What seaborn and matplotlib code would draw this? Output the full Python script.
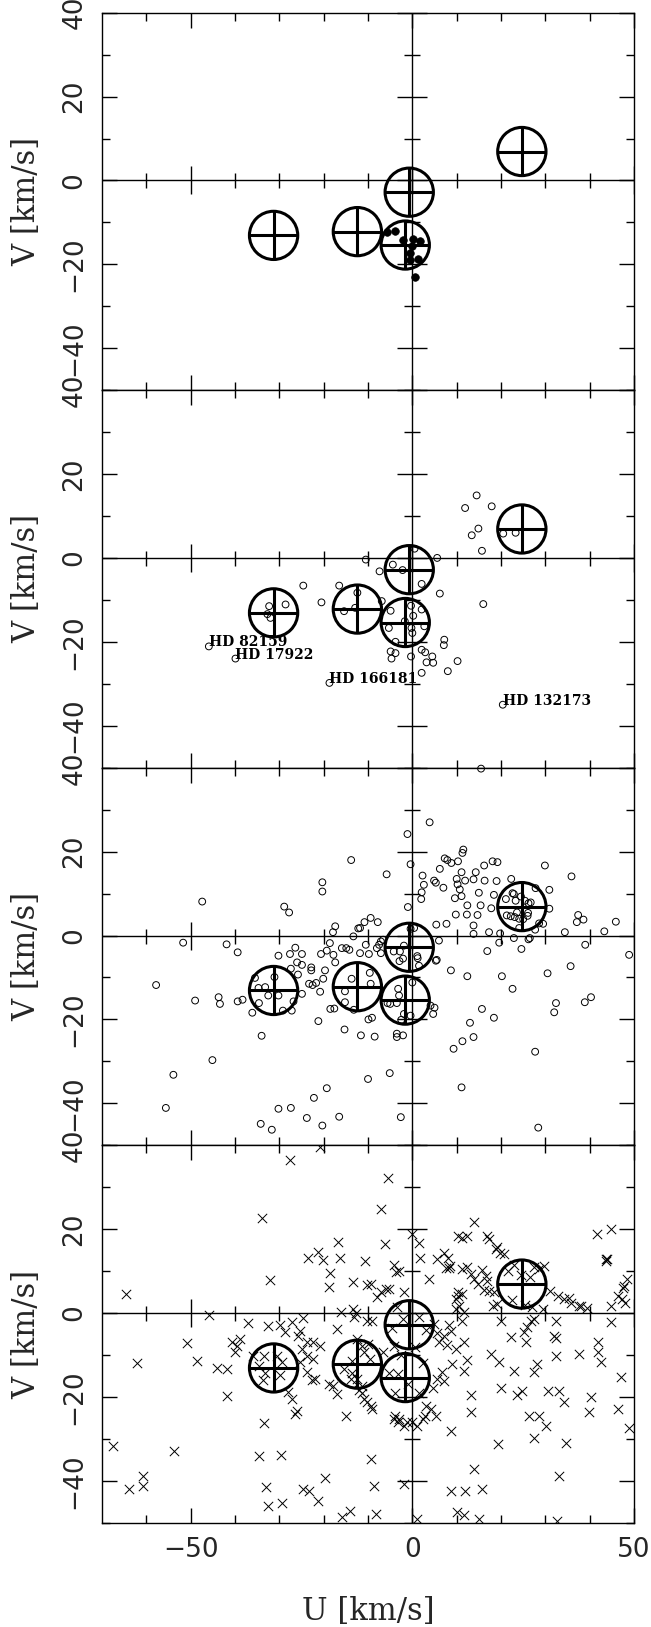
import matplotlib
matplotlib.use("Agg")
import matplotlib.pyplot as plt
import seaborn as sns
import pandas as pd
from matplotlib.patches import Ellipse

# ---------------------------------------------------------------- data
# moving-group centres (U, V) and the half-widths of their outlines
group_u = [24.7, -0.7, -12.4, -31.3, -1.6]
group_v = [6.9, -2.8, -12.2, -13.1, -15.4]
group_du = [5.45, 5.45, 5.45, 5.45, 5.45]
group_dv = [5.75, 5.75, 5.75, 5.75, 5.75]

# panel 1: filled dots
p1_u = [-5.8, -3.9, -2.1, 0.2, 1.8, 0.0, -0.6, -0.5, 1.2, 0.6]
p1_v = [-12.2, -12.1, -14.1, -14.0, -14.5, -15.6, -17.3, -19.0, -18.8, -23.1]

# panel 2: open circles
p2_u = [14.5, 11.9, 17.9, 14.9, 13.4, 15.7, 20.5, 23.3, 16.0,
        -10.5, -7.4, -4.4, -2.2, 0.5, 5.6, 2.1, 6.2, -24.6, -16.5, -20.5,
        -12.4, -15.4, -12.9, -6.9, -4.9, -32.3, -28.6, -32.7, -32.0,
        -0.3, 2.1, 0.2, -1.7, 2.7, -5.3, -0.2, 0.0, -3.8, -4.9, -3.8,
        -4.7, -0.3, 2.1, 2.9, 4.5, 3.2, 4.7, 7.2, 7.1, 10.2, 8.0, 2.1]
p2_v = [14.9, 11.9, 12.3, 7.0, 5.4, 1.7, 5.8, 6.0, -11.0,
        -0.4, -3.2, -1.6, -2.9, 2.2, 0.0, -6.2, -8.5, -6.6, -6.6, -10.6,
        -8.3, -12.7, -11.9, -10.3, -12.6, -11.5, -11.1, -13.4, -14.3,
        -11.4, -12.3, -13.8, -15.1, -16.3, -16.7, -16.7, -17.9, -20.0, -22.3, -22.7,
        -24.0, -23.5, -21.9, -22.5, -23.5, -24.9, -25.0, -19.5, -20.8, -24.6, -27.0, -27.4]

# panel 2: named stars
hd_names = ["HD 82159", "HD 17922", "HD 166181", "HD 132173"]
hd_u = [-45.9, -39.9, -18.7, 20.4]
hd_v = [-21.1, -24.0, -29.8, -35.0]

# panel 3: open circles
p3_u = [-13.8, -20.3, -20.3, -47.4, -28.9, -27.8, -17.4, -17.9, -12.2, -10.8,
        -13.3, -51.7, -41.9, -39.4, -57.8, -49.0, -43.7, -43.4, -39.4, -38.3,
        -36.1, -34.6, -35.5, -34.7, -33.2, -32.5, -31.1, -30.2, -29.2, -27.2,
        -26.8, -24.9, -30.2, -27.6, -26.4, -24.9, -26.0, -24.9, -25.8, -27.4,
        -22.8, -22.8, -23.3, -22.5, -20.8, -21.7, -19.7, -20.1, -20.6, -19.3,
        -18.6, -17.8, -17.4, -15.9, -14.9, -14.2, -21.2, -18.5, -17.6, -15.3,
        -11.6, -34.0, -45.1, -53.9, -55.6, -34.2, -31.7, -30.2, -27.4, -23.8,
        -22.2, -20.3, -19.3, -16.5, -10.0, -13.7, -9.6, -9.4, -15.2, -15.2,
        -13.2, -9.1, -9.9, -8.5, -7.8, -9.4, -11.8, -10.5, -8.0, -7.1,
        -11.8, -9.8, -5.8,
        -1.1, 3.9, -0.4, -1.0, 2.3, 2.6, 2.1, 2.0, 4.9, 5.3,
        7.0, 6.2, 7.3, 7.9, 8.8, 10.3, 11.3, 11.5, 11.1, 10.0,
        10.2, 10.7, 11.1, 9.6, 9.8, 12.4, 12.3, 11.9, 13.8, 14.3,
        16.2, 16.3, 15.0, 14.7, 15.4, 18.1, 19.2, 19.0, 18.4, 17.8,
        13.8, 13.8, 7.7, 5.4, 6.0, 17.3, 19.6, 16.9, 22.3, 21.1,
        22.9, 21.3, 22.2, 23.1, 24.1, 24.6, 22.9, 24.1, 23.3, 25.4,
        26.7, 26.1, 27.8, 30.9, 29.9, 30.9, 29.5, 26.5, 35.9, 37.4,
        37.1, 38.6, 34.4, 43.3, 45.9, 39.0, 48.9, 35.7, 30.5, 20.2,
        12.4, 8.7, 22.6, 32.4, 32.0, 38.9, 40.3, 15.7, 18.4, 13.0,
        13.8, 11.3, 9.3, 27.7, 11.1, 28.4, -2.6, -5.1, 4.7, 4.1,
        5.3, 1.1, -2.8, -1.9, -7.5, -0.4, 0.4, 1.5, -3.2, -3.0,
        -3.5, -0.4, -1.9, -3.5, -3.5, -2.1, -5.6, -5.0,
        5.5, -4.2, -2.1, -2.9, 1.2, -6.6, -7.1, 0.0, 5.0, -2.5,
        22.6, 24.5, 26.2, 23.6, 25.0, 26.0, 27.7, 28.6, 26.2, 19.8,
        15.5]
p3_v = [18.0, 12.7, 10.5, 8.1, 6.9, 5.5, 2.2, 0.8, 1.7, 3.2,
        -0.2, -1.7, -2.1, -4.0, -11.8, -15.5, -14.7, -16.3, -15.7, -15.3,
        -18.4, -16.1, -10.1, -12.5, -12.3, -14.3, -9.9, -14.3, -17.9, -17.9,
        -15.7, -13.9, -4.8, -4.4, -2.9, -4.4, -6.4, -7.0, -9.3, -7.9,
        -7.6, -8.3, -11.5, -11.8, -13.4, -11.3, -8.3, -10.3, -4.4, -3.6,
        -1.8, -4.6, -6.4, -3.0, -3.0, -3.4, -20.4, -17.5, -17.4, -22.4,
        -23.8, -23.9, -29.7, -33.2, -41.1, -44.9, -46.3, -41.3, -41.1, -43.5,
        -38.7, -45.3, -36.4, -43.2, -34.2, -10.3, -8.9, -11.5, -13.3, -15.9,
        -17.7, -19.6, -20.0, -24.1, 3.2, 4.2, 1.8, -2.2, -3.0, -1.4,
        -4.2, -4.4, 14.6,
        24.2, 27.0, 17.0, 6.8, 14.3, 12.1, 10.3, 8.7, 13.1, 12.6,
        11.4, 15.9, 18.4, 18.0, 17.3, 17.7, 19.7, 20.5, 15.1, 13.5,
        12.2, 11.0, 9.4, 8.9, 5.0, 7.2, 5.0, 13.1, 13.4, 15.1,
        16.7, 13.1, 10.2, 4.9, 7.2, 17.7, 17.5, 13.0, 9.7, 6.5,
        2.4, 0.4, 2.8, 2.6, -1.2, 0.8, -1.7, -3.7, 13.5, 8.7,
        9.9, 4.8, 4.6, 4.4, 4.0, -3.2, -0.6, 1.8, 8.3, 8.3,
        7.9, 5.4, 11.3, 10.9, 16.7, 6.4, 2.8, -0.6, 14.1, 4.9,
        3.2, 3.8, 0.8, 1.0, 3.3, -2.2, -4.6, -7.3, -9.0, -9.7,
        -9.7, -8.3, -12.7, -16.1, -18.3, -15.9, -14.7, -17.5, -19.6, -20.8,
        -24.2, -25.2, -27.0, -27.7, -36.2, -45.8, -43.3, -32.8, -18.7, -16.7,
        -6.0, -4.9, -3.8, -2.4, -2.2, 1.6, 1.8, -7.2, -12.7, -14.3,
        -16.1, -19.1, -18.7, -23.4, -24.2, -23.8, -16.1, -16.3,
        -5.8, -3.8, -5.5, -6.1, -5.4, -1.0, -4.2, -11.2, -17.2, -20.1,
        10.1, 9.3, 7.7, 5.5, 3.9, 4.7, 1.4, 2.9, -0.9, 0.5,
        39.8]

# panel 4: crosses
p4_u = [-27.6, -20.8, -33.8, -32.2, -64.7, -23.6, -21.2, -20.2, -16.8, -16.3,
        -18.5, -18.8, -13.3, -10.6, -10.3, -45.8, -37.0, -32.5, -29.8, -28.7,
        -27.2, -24.6, -25.3, -25.7, -23.8, -22.5, -20.8, -22.3, -23.8, -24.9,
        -16.9, -16.1, -13.4, -13.1, -50.8, -62.2, -48.6, -44.0, -41.7, -41.9,
        -40.7, -39.6, -40.0, -38.8, -36.0, -33.4, -34.5, -33.2, -33.7, -30.6,
        -29.5, -29.8, -28.0, -27.2, -26.1, -26.4, -25.3, -23.8, -22.7, -22.0,
        -18.7, -17.8, -17.0, -14.9, -33.4, -67.5, -53.8, -34.7, -29.7, -19.8,
        -60.7, -60.7, -63.9, -33.0, -24.6, -23.4, -21.2, -32.6, -29.5, -15.9,
        -14.0,
        -7.1, -5.5, -6.1, -4.2, -3.6, -8.0, -7.1, -1.9, 0.0, 1.4,
        1.7, 3.8, 5.6, 7.1, 8.0, 8.5, 7.5, 10.3, 10.6, 10.3,
        11.2, 13.9, 16.9, 17.4, 18.8, 19.7, 20.6, 31.0, 32.9, 34.3,
        35.7, 38.1, 39.5, 41.6, 44.7, 43.6, 44.0, 46.5, 48.0, 48.5,
        47.5, -3.0, -9.4, -6.0, -5.3, 8.3, 12.4, 11.3, 12.4, 13.2,
        13.9, 14.7, 10.2, 11.3, 9.8, 19.2, 15.8, 16.6, 16.9, 16.2,
        17.3, 18.4, 18.1, 19.2, 29.7, 35.4, 37.6, 44.8, 47.4, 47.8,
        43.6, 44.8, 11.3, 11.7, 9.8,
        19.9, 22.2, 25.2, 25.8, 26.7, 27.5, 25.6, 32.4, 32.0, 32.4,
        32.4, 37.6, 41.8, 41.8, 42.5, 47.0, 17.7, 19.6, 22.9, 27.5,
        28.2, 19.9, 23.7, 24.8, 30.5, 33.1, 34.2, 40.3, 39.9, 46.4,
        48.9, 26.3, 28.6, 30.1, 27.5, 34.6, 19.4, 13.3, 13.3, 8.8,
        13.8, 33.1, 8.8, 11.8, 15.6, 10.0, 11.7, 15.0, 32.7, -8.7,
        -9.4, -8.3, -1.9, 1.1,
        4.9, 5.6, 7.1, 6.0, 8.3, 8.7, 7.9, 9.8, 11.7, 12.4,
        11.7, 9.0, 6.8, 5.6, 7.1, 3.0, 4.1, 5.3, 2.3, 1.1,
        -1.1, -3.0, -3.8, -9.4, -9.0,
        -12.7, -10.3, -9.1, -12.4, -11.3, -10.8, -9.9, -9.5, -13.5, -15.4,
        -13.5, -13.9, -12.5, -11.3, -10.8, -10.3, -11.3, -12.1, -6.6, -4.2,
        -3.3, -5.2, -4.2, -3.3, -1.9, 0.0, 2.8, 4.7,
        21.5, 23.0, 24.5, 26.5, 27.5, 28.5, 22.5, 25.5, 27.0, 29.5,
        -2.0, 1.5, -4.5, 3.0, -3.5, -2.5, 0.5, 2.5, -1.0, 1.5, -4.0]
p4_v = [36.6, 39.7, 22.6, 7.9, 4.5, 13.0, 14.5, 12.7, 17.0, 13.0,
        9.5, 6.3, 7.5, 12.3, 6.7, -0.5, -2.5, -3.0, -2.9, -4.6,
        -2.2, -1.2, -4.2, -5.6, -7.0, -6.8, -7.8, -11.0, -10.2, -8.6,
        -3.8, 0.2, 1.0, -1.0, -7.2, -11.9, -11.4, -13.2, -13.4, -19.9,
        -7.0, -7.9, -9.4, -6.2, -10.2, -10.2, -12.7, -14.3, -15.9, -10.2,
        -11.8, -14.9, -18.9, -20.5, -23.3, -24.1, -11.8, -14.1, -15.9, -15.7,
        -16.9, -17.3, -19.3, -24.5, -26.3, -31.6, -32.8, -34.2, -33.9, -39.3,
        -38.8, -41.2, -42.0, -41.6, -42.0, -42.4, -44.8, -46.1, -45.2, -48.7,
        -47.1,
        24.7, 32.3, 16.4, 11.4, 9.7, 3.8, 4.9, 5.0, 18.8, 16.8,
        13.2, 8.1, 12.8, 14.4, 13.2, 11.2, 10.8, 4.1, 1.7, 18.4,
        18.0, 21.6, 18.4, 17.6, 15.2, 14.4, 14.0, 5.3, 4.1, 3.3,
        2.5, 1.7, 1.3, 18.8, 20.0, 12.3, 12.8, 4.0, 2.5, 8.0,
        6.0, 10.1, 6.9, 5.7, 5.7, 10.7, 18.3, 10.5, 10.9, 9.3,
        8.1, 6.9, 4.9, 4.5, 3.3, 15.7, 10.3, 8.9, 7.7, 5.6,
        5.2, 4.9, 1.7, 2.1, 11.1, 3.6, 1.6, 1.7, 3.3, 6.5,
        12.9, -2.2, -1.8, 0.2, 1.0,
        -1.8, -5.8, -4.6, -3.4, -1.8, -1.4, -7.0, -2.0, -5.6, -6.0,
        -10.3, -9.7, -6.9, -9.4, -11.6, -15.3, -9.8, -11.8, -13.8, -14.1,
        -12.2, -18.0, -19.5, -18.5, -18.5, -18.5, -21.3, -20.1, -23.5, -22.8,
        -27.3, -24.5, -24.5, -26.9, -29.7, -31.0, -31.2, -19.6, -23.5, -28.1,
        -37.2, -38.8, -42.4, -42.5, -42.0, -47.5, -48.2, -49.1, -49.5, -41.2,
        -34.8, -47.9, -40.8, -49.1,
        -2.6, -4.8, -5.6, -6.8, -2.8, -4.4, -7.6, -8.6, -7.0, -11.1,
        -13.8, -12.2, -14.1, -15.7, -16.1, -22.1, -22.9, -24.5, -25.3, -26.9,
        -26.1, -25.3, -24.5, -22.1, -22.9,
        0.1, -1.9, -2.0, -6.2, -7.8, -9.4, -7.4, -11.0, -11.4, -13.4,
        -14.2, -15.8, -15.8, -19.0, -20.6, -21.3, -17.4, -18.3, -9.4, -7.8,
        -14.6, -14.2, -25.3, -26.1, -26.9, -26.1, -24.5, -17.8,
        10.0, 11.5, 9.0, 8.5, 11.0, 10.5, 3.0, 2.0, 1.5, 1.0,
        -1.5, -1.0, -3.5, -4.0, 1.5, -10.0, -8.0, -12.0, -17.0, -19.0, -19.0]

# axis ticks
u_major = [-50, 0, 50]
u_minor = [-60, -40, -30, -20, -10, 10, 20, 30, 40]
v_major = [-40, -20, 0, 20, 40]
v_minor = [-50, -30, -10, 10, 30]
u_lim = (-70, 50)
v_lim = (-50, 40)

# ---------------------------------------------------------------- style
sns.set_theme(style="ticks")
plt.rcParams["font.family"] = ["DejaVu Serif"]
plt.rcParams["axes.linewidth"] = 1.0
plt.rcParams["axes.edgecolor"] = "black"

INK = "black"
TICK_FONT = dict(family="DejaVu Sans", size=19)
LABEL_FONT = dict(family="DejaVu Serif", size=22)

fig = plt.figure(figsize=(6.51, 16.27), dpi=100)
left, width, height = 0.1567, 0.8172, 0.2320
bottoms = [0.7602, 0.5282, 0.2961, 0.0641]
axes = [fig.add_axes([left, b, width, height]) for b in bottoms]


def signed(t):
    return f"{t:d}".replace("-", "\u2212")


def frame(ax, show_u_labels):
    ax.set_xlim(*u_lim)
    ax.set_ylim(*v_lim)
    ax.set_xticks(u_major)
    ax.set_xticks(u_minor, minor=True)
    ax.set_yticks(v_major)
    ax.set_yticks(v_minor, minor=True)
    ax.tick_params(which="both", direction="in", top=True, right=True,
                   width=1.0, color=INK)
    ax.tick_params(which="major", length=10.8)
    ax.tick_params(which="minor", length=5.8)
    ax.tick_params(axis="y", which="major", pad=10.5)
    ax.tick_params(axis="x", which="major", pad=10.0,
                   labelbottom=show_u_labels)
    ax.set_yticklabels([signed(t) for t in v_major],
                       rotation=90, va="center", **TICK_FONT)
    if show_u_labels:
        ax.set_xticklabels([signed(t) for t in u_major], **TICK_FONT)
    for s in ax.spines.values():
        s.set_linewidth(1.0)
        s.set_color(INK)
    # axes through the origin, with ticks on both sides
    ax.axhline(0, color=INK, lw=1.0, zorder=1)
    ax.axvline(0, color=INK, lw=1.0, zorder=1)
    ax.plot(u_major, [0] * len(u_major), ls="none", marker="|", ms=19.5,
            mew=1.0, color=INK, zorder=1)
    ax.plot(u_minor, [0] * len(u_minor), ls="none", marker="|", ms=10.8,
            mew=1.0, color=INK, zorder=1)
    ax.plot([0] * len(v_major), v_major, ls="none", marker="_", ms=20.9,
            mew=1.0, color=INK, zorder=1, clip_on=False)
    ax.plot([0] * len(v_minor), v_minor, ls="none", marker="_", ms=11.5,
            mew=1.0, color=INK, zorder=1)


def groups(ax):
    for u, v, du, dv in zip(group_u, group_v, group_du, group_dv):
        ax.add_patch(Ellipse((u, v), 2 * du, 2 * dv, fill=False,
                             ec=INK, lw=2.2, zorder=4))
    ax.errorbar(group_u, group_v, xerr=group_du, yerr=group_dv, fmt="none",
                ecolor=INK, elinewidth=2.2, capsize=0, zorder=4)


for i, ax in enumerate(axes):
    frame(ax, i == len(axes) - 1)

# panel 1: filled dots
ax = axes[0]
sns.scatterplot(data=pd.DataFrame({"U": p1_u, "V": p1_v}), x="U", y="V",
                ax=ax, color=INK, edgecolor=INK, s=30, linewidth=0.5,
                zorder=3)
groups(ax)

# panel 2: open circles with named stars
ax = axes[1]
df2 = pd.DataFrame({"U": p2_u + hd_u, "V": p2_v + hd_v})
sns.scatterplot(data=df2, x="U", y="V", ax=ax, marker="o",
                facecolor="none", edgecolor=INK, s=24, linewidth=0.7,
                zorder=3)
for name, u, v in zip(hd_names, hd_u, hd_v):
    ax.text(u, v, name, ha="left", va="baseline", family="DejaVu Serif",
            weight="bold", size=10, color=INK, zorder=5)
groups(ax)

# panel 3: open circles
ax = axes[2]
sns.scatterplot(data=pd.DataFrame({"U": p3_u, "V": p3_v}), x="U", y="V",
                ax=ax, marker="o", facecolor="none", edgecolor=INK, s=24,
                linewidth=0.7, zorder=3, clip_on=False)
groups(ax)

# panel 4: crosses
ax = axes[3]
sns.scatterplot(data=pd.DataFrame({"U": p4_u, "V": p4_v}), x="U", y="V",
                ax=ax, marker="x", color=INK, s=45, linewidth=0.7, zorder=3)
groups(ax)

for ax in axes:
    ax.set_ylabel("V [km/s]", **LABEL_FONT)
    ax.yaxis.set_label_coords(-0.113, 0.5)
    ax.set_xlabel("")
axes[-1].set_xlabel("U [km/s]", **LABEL_FONT)
axes[-1].xaxis.set_label_coords(0.5, -0.195)

fig.savefig("out.png", dpi=100)
